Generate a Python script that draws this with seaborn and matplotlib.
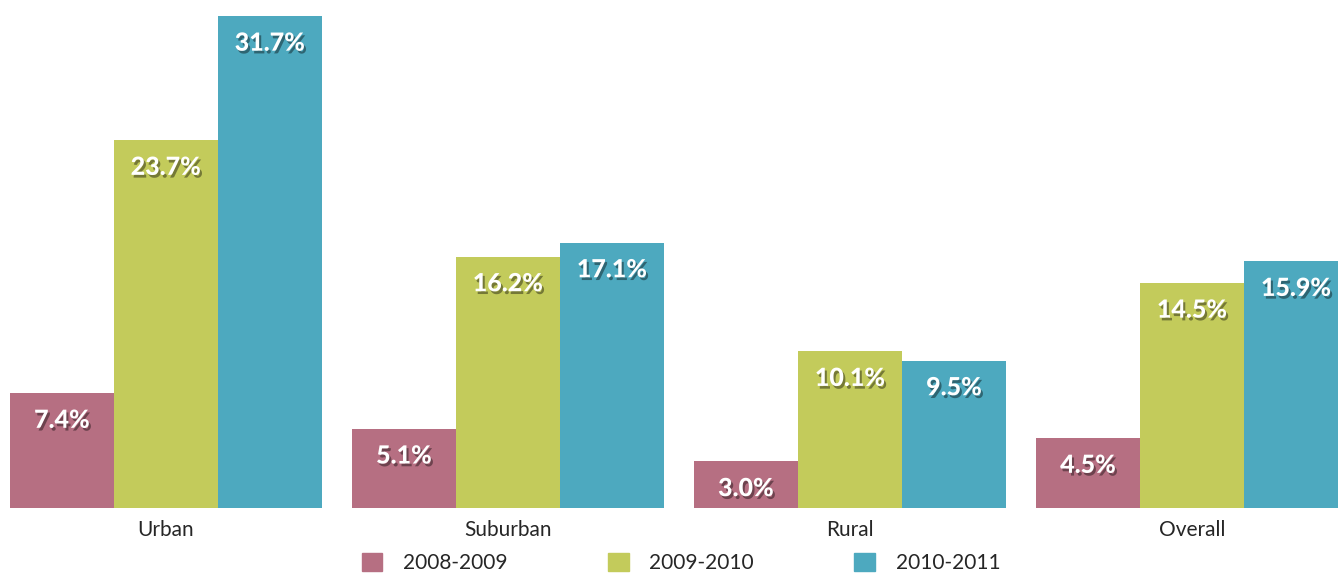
import matplotlib
matplotlib.use('Agg')
import matplotlib.pyplot as plt
import matplotlib.patheffects as pe
import seaborn as sns
import pandas as pd

categories = ['Urban', 'Suburban', 'Rural', 'Overall']
periods = ['2008-2009', '2009-2010', '2010-2011']
values_0809 = [7.4, 5.1, 3.0, 4.5]
values_0910 = [23.7, 16.2, 10.1, 14.5]
values_1011 = [31.7, 17.1, 9.5, 15.9]
colors = ['#B66F82', '#C3CB5B', '#4DA9BF']

rows = []
for period, vals in zip(periods, [values_0809, values_0910, values_1011]):
    for cat, v in zip(categories, vals):
        rows.append({'area': cat, 'period': period, 'value': v})
df = pd.DataFrame(rows)

sns.set_style('white')
plt.rcParams['font.family'] = ['Lato', 'DejaVu Sans']

fig = plt.figure(figsize=(13.38, 5.73), dpi=100)
ax = fig.add_axes([0, 65 / 573, 1, 508 / 573])

sns.barplot(data=df, x='area', y='value', hue='period', order=categories,
            hue_order=periods, palette=colors, width=0.912, gap=0,
            saturation=1, linewidth=0, ax=ax, legend=False)

ax.set_xlim(-0.485, 3.427)
ax.set_ylim(0, 508 / 15.52)

shadow = [pe.withSimplePatchShadow(offset=(1.5, -2), shadow_rgbFace='black', alpha=0.4)]
for container in ax.containers:
    for bar in container:
        h = bar.get_height()
        ax.text(bar.get_x() + bar.get_width() / 2, h - 1.75, f'{h:.1f}%',
                ha='center', va='center', color='white', fontsize=18,
                fontweight='black', path_effects=shadow)

for s in ax.spines.values():
    s.set_visible(False)
ax.set_yticks([])
ax.set_xlabel('')
ax.set_ylabel('')
ax.tick_params(axis='x', length=0, pad=9, labelsize=15)

handles = [plt.Rectangle((0, 0), 1, 1, color=c) for c in colors]
fig.legend(handles, periods, loc='center', bbox_to_anchor=(681 / 1338, 10 / 573),
           ncol=3, frameon=False, fontsize=15, handlelength=1.0, handleheight=1.0,
           handletextpad=1.0, columnspacing=4.8, borderpad=0)

fig.savefig('out.png', dpi=100)
